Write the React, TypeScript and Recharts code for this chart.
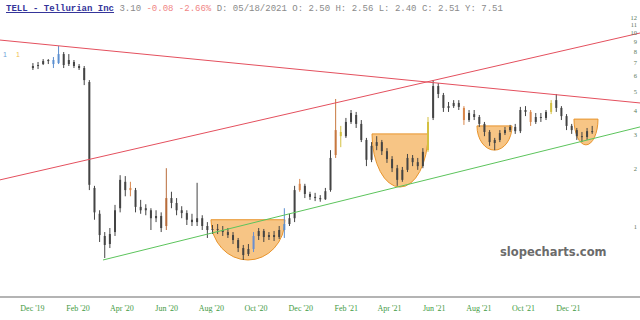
import React from "react";
import { ComposedChart, Bar, XAxis, YAxis, ReferenceLine, ReferenceArea } from "recharts";

// weekly candles, day 0 = 1 Dec 2019
const opens = [
  6.6, 6.76, 6.92, 7.17, 7.26, 7.0, 7.79, 6.92, 7.09, 6.76,
  6.6, 5.59, 1.59, 1.17, 0.899, 0.817, 0.942, 1.25, 1.71, 1.55,
  1.55, 1.27, 1.22, 1.22, 1.11, 1.14, 1.012, 1.41, 1.33, 1.22,
  1.18, 1.09, 1.06, 1.11, 1.012, 0.965, 0.977, 0.965, 0.942, 0.909,
  0.857, 0.779, 0.726, 0.77, 0.899, 0.954, 0.888, 0.909, 0.888, 0.965,
  1.036, 1.11, 1.55, 1.63, 1.48, 1.43, 1.41, 1.39, 1.55, 2.35,
  3.09, 2.94, 3.48, 3.78, 3.4, 2.81, 2.22, 2.62, 2.74, 2.46,
  2.24, 2.01, 1.75, 1.97, 2.27, 2.16, 2.06, 2.49, 3.65, 5.33,
  4.79, 4.11, 4.2, 4.36, 4.11, 3.56, 3.82, 3.69, 3.4, 3.09,
  2.71, 2.81, 3.05, 3.16, 3.28, 3.12, 4.01, 3.92, 3.48, 3.69,
  3.65, 3.92, 4.51, 4.11, 3.73, 3.32, 3.16, 2.94, 2.91, 3.12,
];
const highs = [
  7.0, 7.09, 7.34, 7.34, 7.52, 8.57, 7.98, 7.79, 7.26, 6.92,
  6.76, 5.72, 1.63, 1.22, 0.942, 0.988, 1.3, 1.85, 1.83, 1.71,
  1.59, 1.38, 1.31, 1.25, 1.22, 1.19, 2.01, 1.52, 1.41, 1.28,
  1.22, 1.17, 1.69, 1.15, 1.06, 1.024, 1.036, 1.012, 0.988, 0.942,
  0.878, 0.808, 0.817, 0.942, 0.988, 0.977, 0.942, 0.954, 1.012, 1.25,
  1.17, 1.63, 1.77, 1.67, 1.52, 1.5, 1.46, 1.59, 2.49, 4.57,
  3.32, 3.65, 4.01, 3.92, 3.56, 2.88, 2.74, 2.94, 2.81, 2.55,
  2.32, 2.09, 2.04, 2.38, 2.35, 2.27, 2.55, 3.69, 5.72, 5.52,
  4.91, 4.41, 4.51, 4.51, 4.2, 4.01, 4.01, 3.78, 3.48, 3.16,
  2.88, 3.16, 3.28, 3.36, 3.4, 4.16, 4.2, 4.01, 3.87, 3.87,
  4.01, 4.51, 4.85, 4.2, 3.82, 3.4, 3.24, 3.09, 3.24, 3.32,
];
const lows = [
  6.45, 6.52, 6.84, 6.92, 6.6, 6.92, 6.6, 6.76, 6.6, 6.45,
  5.39, 1.55, 1.09, 0.837, 0.692, 0.779, 0.899, 1.19, 1.44, 1.44,
  1.19, 1.17, 1.15, 0.965, 1.06, 0.942, 0.965, 1.25, 1.15, 1.11,
  1.024, 1.012, 1.012, 0.965, 0.878, 0.92, 0.92, 0.899, 0.878, 0.817,
  0.743, 0.676, 0.709, 0.743, 0.857, 0.837, 0.857, 0.847, 0.867, 0.878,
  1.012, 1.06, 1.52, 1.41, 1.38, 1.36, 1.35, 1.38, 1.52, 2.27,
  2.58, 2.88, 3.4, 3.24, 2.74, 2.06, 2.16, 2.49, 2.35, 2.14,
  1.92, 1.63, 1.71, 1.92, 2.06, 1.97, 2.01, 2.44, 3.56, 4.62,
  3.92, 3.92, 4.11, 4.01, 3.36, 3.48, 3.56, 3.28, 2.94, 2.62,
  2.49, 2.74, 2.98, 3.09, 3.02, 3.05, 3.73, 3.32, 3.4, 3.48,
  3.56, 3.82, 3.92, 3.56, 3.16, 3.02, 2.81, 2.74, 2.81, 3.02,
];
const closes = [
  6.76, 6.84, 7.17, 7.26, 6.92, 7.79, 6.84, 7.26, 6.76, 6.6,
  5.72, 1.65, 1.19, 0.909, 0.808, 0.92, 1.22, 1.75, 1.55, 1.59,
  1.27, 1.22, 1.25, 1.11, 1.14, 0.988, 1.41, 1.33, 1.22, 1.18,
  1.09, 1.06, 1.11, 1.012, 0.965, 0.977, 0.965, 0.942, 0.909, 0.857,
  0.779, 0.717, 0.77, 0.899, 0.954, 0.888, 0.909, 0.888, 0.965, 1.036,
  1.11, 1.55, 1.67, 1.48, 1.43, 1.41, 1.39, 1.53, 2.27, 3.16,
  2.94, 3.48, 3.87, 3.4, 2.81, 2.22, 2.62, 2.74, 2.46, 2.24,
  2.01, 1.75, 1.97, 2.27, 2.16, 2.06, 2.44, 3.48, 5.33, 4.85,
  4.11, 4.2, 4.36, 4.16, 3.56, 3.87, 3.69, 3.4, 3.09, 2.74,
  2.81, 3.05, 3.16, 3.28, 3.12, 4.01, 3.92, 3.48, 3.69, 3.65,
  3.92, 4.36, 4.11, 3.73, 3.32, 3.16, 2.94, 2.91, 3.12, 3.1,
];

const monthTicks = [0, 62, 122, 183, 244, 305, 366, 428, 487, 548, 609, 670, 731];
const monthLabels = [
  "Dec '19", "Feb '20", "Apr '20", "Jun '20", "Aug '20", "Oct '20", "Dec '20",
  "Feb '21", "Apr '21", "Jun '21", "Aug '21", "Oct '21", "Dec '21",
];
const priceTicks = [1, 2, 3, 4, 5, 6, 7, 8, 9, 10, 11, 12];

// trendlines: [day, price] end points
const resistance = [[-44.3, 9.2], [828.8, 4.36]];
const channelTop = [[-44.3, 1.75], [828.8, 10.0]];
const support = [[96.2, 0.676], [828.8, 3.28]];

// cup patterns: start day, end day, rim price, bottom price
const cups = [
  [243.5, 344.5, 1.09, 0.676],
  [463.2, 539.6, 3.02, 1.607],
  [606.4, 654.2, 3.32, 2.49],
  [738.7, 771.5, 3.6, 2.65],
];

const highlight: Record<number, string> = {
  4: "#5b8fd0", 5: "#5b8fd0", 19: "#d9864a", 26: "#b86b3a", 43: "#6a8fd0",
  49: "#5b8fd0", 52: "#d9864a", 59: "#c8783f", 60: "#d4c040", 77: "#d4c040",
  84: "#d9864a", 97: "#d9864a", 101: "#d4c040",
};

const rows = closes.map((c, i) => ({
  day: i * 7,
  open: opens[i],
  high: highs[i],
  low: lows[i],
  close: c,
  range: [lows[i], highs[i]],
}));

const Candle = (props: any) => {
  const { x, y, width, height, payload, index } = props;
  if (x == null || y == null || !payload) return null;
  const top = Math.min(y, y + height);
  const h = Math.abs(height);
  const cx = x + width / 2;
  const lh = Math.log(payload.high);
  const span = lh - Math.log(payload.low) || 1;
  const py = (v: number) => top + (h * (lh - Math.log(v))) / span;
  const b1 = py(Math.max(payload.open, payload.close));
  const b2 = py(Math.min(payload.open, payload.close));
  const color = highlight[index] ?? "#444";
  return (
    <g>
      <line x1={cx} x2={cx} y1={top} y2={top + h} stroke={color} strokeWidth={1} />
      <rect x={x} y={b1} width={width} height={Math.max(1, b2 - b1)} fill={color} />
    </g>
  );
};

const Cup = (props: any) => {
  const { x, y, width, height } = props;
  const d = `M${x},${y} L${x + width},${y} A${width / 2},${height} 0 0 1 ${x},${y} Z`;
  return <path d={d} fill="#f2a13a" fillOpacity={0.62} stroke="#e8942c" strokeWidth={1} />;
};

export default function App() {
  return (
    <div style={{ position: "absolute", left: 0, top: 0, width: 640, height: 320, background: "#fff" }}>
      <ComposedChart width={640} height={320} data={rows} margin={{ top: 0, right: 0, bottom: 0, left: 0 }}>
        <XAxis
          dataKey="day"
          type="number"
          domain={[-44.3, 828.8]}
          allowDataOverflow
          ticks={monthTicks}
          tickFormatter={(v: number) => monthLabels[monthTicks.indexOf(v)] ?? ""}
          height={23}
          tickLine={false}
          axisLine={{ stroke: "#b4b4b4", strokeWidth: 2 }}
          tick={{ fill: "#3f9a3f", fontSize: 8, fontFamily: "Liberation Serif" }}
        />
        <YAxis
          scale="log"
          domain={[0.4357, 14.8]}
          allowDataOverflow
          ticks={priceTicks}
          orientation="right"
          mirror
          width={30}
          axisLine={false}
          tickLine={false}
          tickSize={0}
          tickMargin={3}
          interval={0}
          tick={{ fill: "#5a7a5a", fontSize: 6.5, fontFamily: "Liberation Serif" }}
        />
        <ReferenceLine
          segment={[{ x: resistance[0][0], y: resistance[0][1] }, { x: resistance[1][0], y: resistance[1][1] }]}
          stroke="#e4505e"
          strokeWidth={1}
          ifOverflow="visible"
        />
        <ReferenceLine
          segment={[{ x: channelTop[0][0], y: channelTop[0][1] }, { x: channelTop[1][0], y: channelTop[1][1] }]}
          stroke="#e4505e"
          strokeWidth={1}
          ifOverflow="visible"
        />
        <ReferenceLine
          segment={[{ x: support[0][0], y: support[0][1] }, { x: support[1][0], y: support[1][1] }]}
          stroke="#5cc45c"
          strokeWidth={1}
          ifOverflow="visible"
        />
        <Bar dataKey="range" barSize={2} shape={<Candle />} isAnimationActive={false} />
        {cups.map((c, i) => (
          <ReferenceArea key={i} x1={c[0]} x2={c[1]} y1={c[3]} y2={c[2]} shape={<Cup />} ifOverflow="visible" />
        ))}
      </ComposedChart>
      <div
        style={{
          position: "absolute",
          left: 6,
          top: 3,
          fontFamily: "Liberation Mono",
          fontSize: 9,
          lineHeight: "12px",
          whiteSpace: "pre",
          color: "#8a8a8a",
        }}
      >
        <span style={{ color: "#35359a", textDecoration: "underline", fontWeight: 700 }}>TELL - Tellurian Inc</span>
        {" 3.10 "}
        <span style={{ color: "#f08585" }}>-0.08 -2.66%</span>
        {" D: 05/18/2021 O: 2.50 H: 2.56 L: 2.40 C: 2.51 Y: 7.51"}
      </div>
      <div style={{ position: "absolute", left: 3, top: 51, fontSize: 7, fontFamily: "Liberation Sans", color: "#6fa0d8" }}>1</div>
      <div style={{ position: "absolute", left: 16, top: 51, fontSize: 7, fontFamily: "Liberation Sans", color: "#f0c050" }}>1</div>
      <div
        style={{
          position: "absolute",
          left: 500,
          top: 245,
          fontFamily: "DejaVu Sans",
          fontWeight: 700,
          fontSize: 11.5,
          color: "#6b6b6b",
        }}
      >
        slopecharts.com
      </div>
    </div>
  );
}
